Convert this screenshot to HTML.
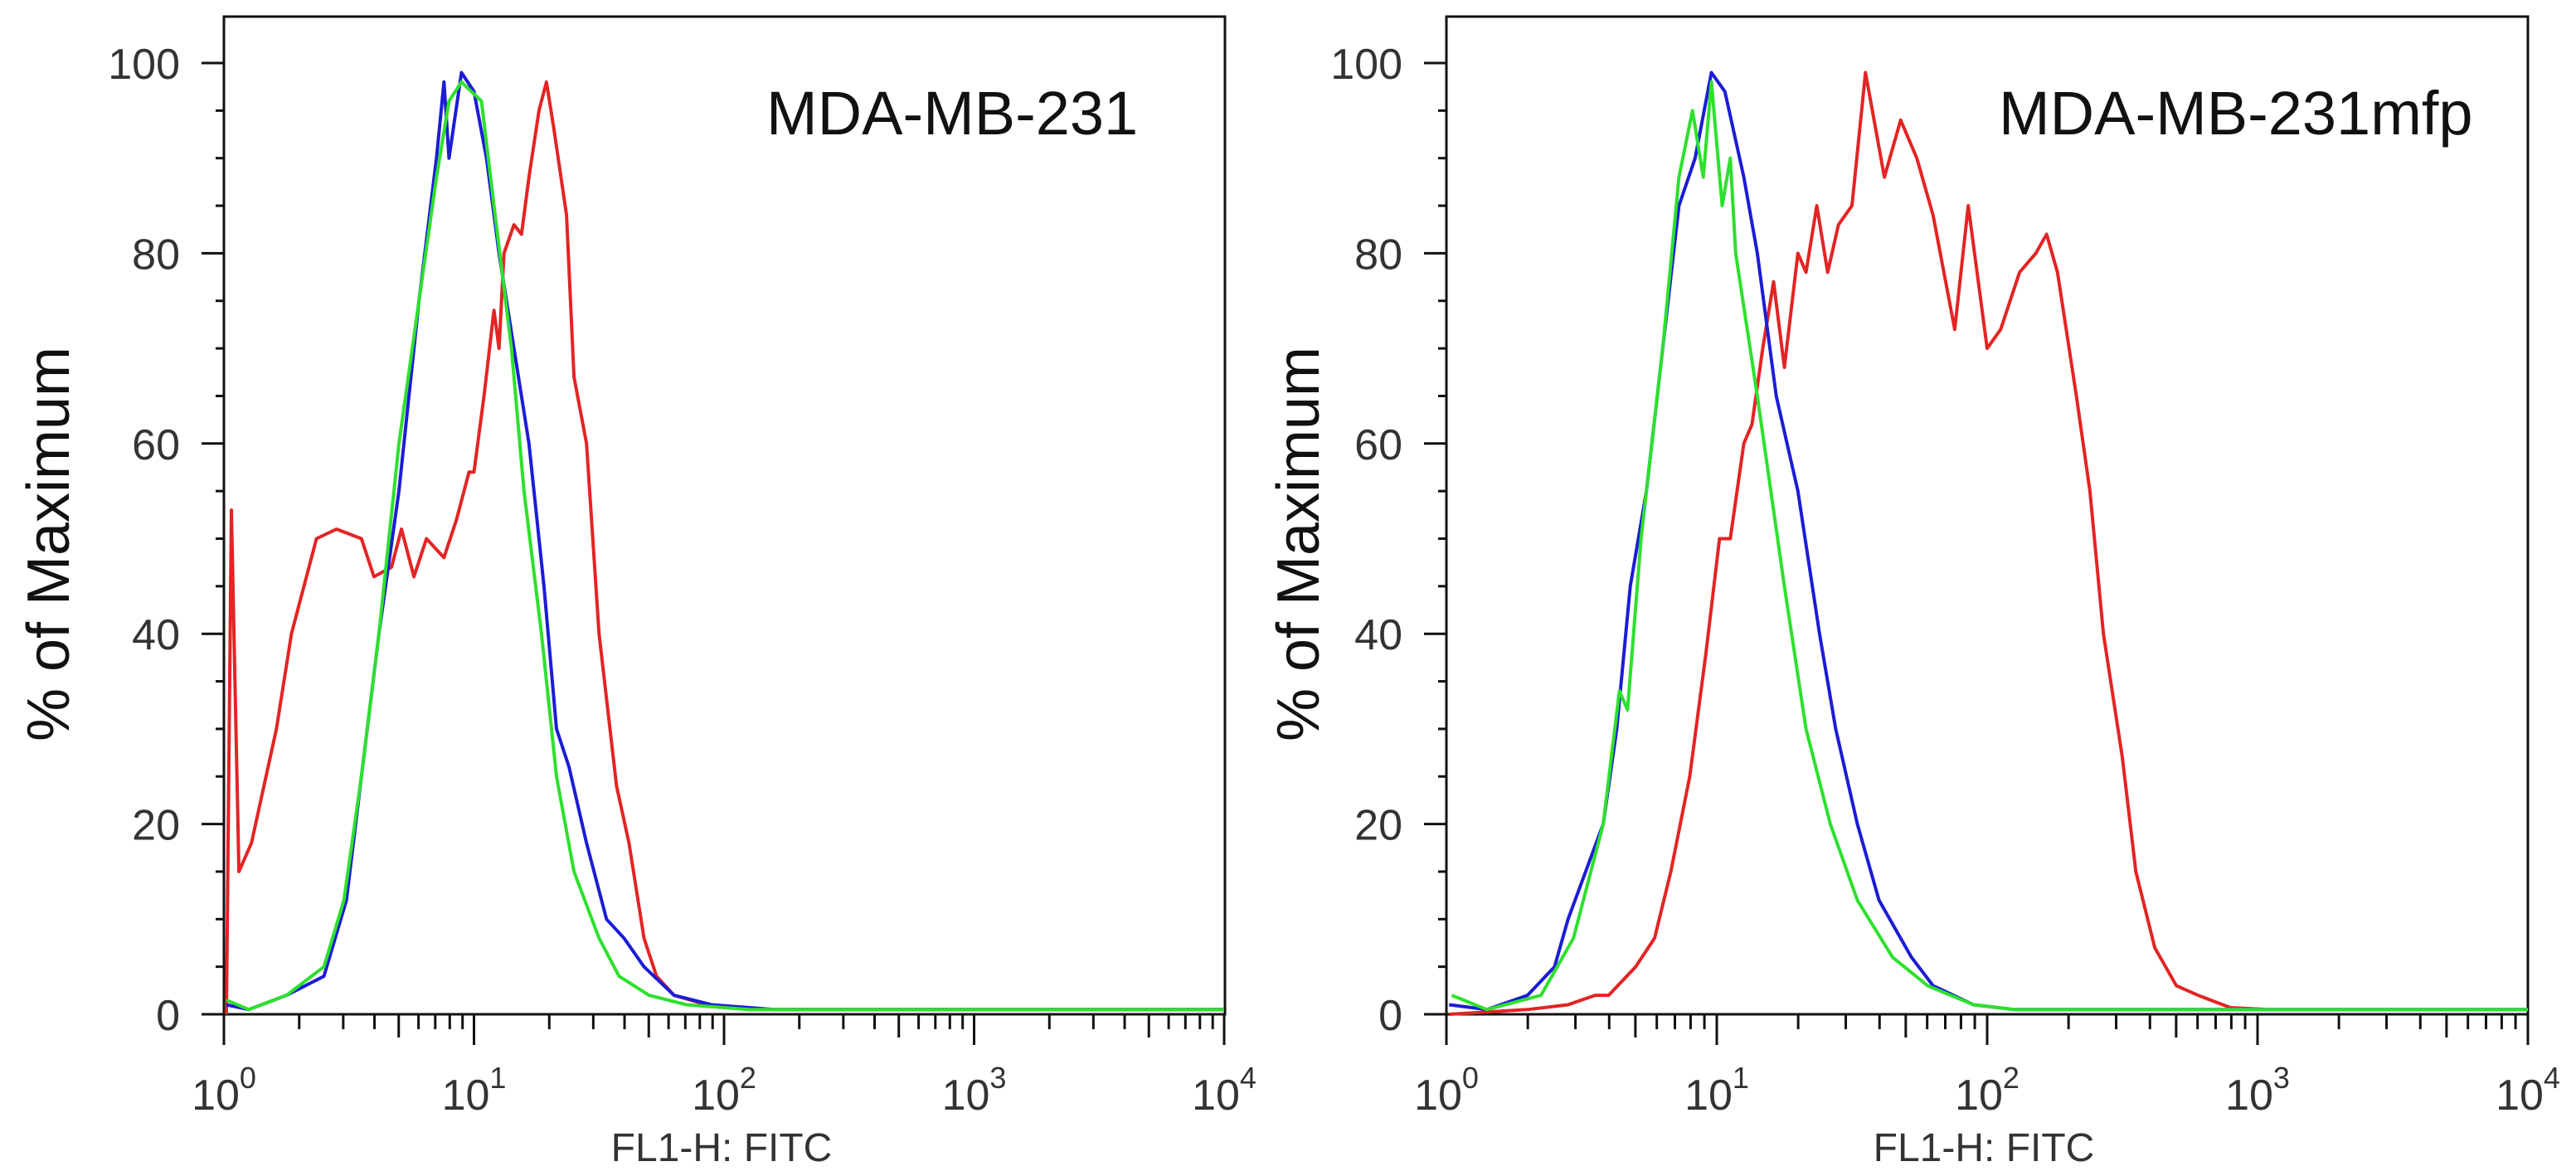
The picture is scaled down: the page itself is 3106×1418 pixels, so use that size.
<!DOCTYPE html>
<html><head><meta charset="utf-8"><style>
html,body{margin:0;padding:0;background:#fff;overflow:hidden;}
svg{display:block;font-family:"Liberation Sans",Arial,sans-serif;}
</style></head><body>
<svg id="chart" width="3106" height="1418" viewBox="0 0 3106 1418"></svg>
<script>
// ---- data (x = log10 fluorescence, y = % of Maximum) ----
const panelTitles = ["MDA-MB-231", "MDA-MB-231mfp"];
const yTicks = [0, 20, 40, 60, 80, 100];
const xDecades = [0, 1, 2, 3, 4];
const L_red_x = [0.01,0.03,0.06,0.11,0.21,0.27,0.37,0.45,0.55,0.6,0.67,0.71,0.76,0.81,0.88,0.93,0.98,1.0,1.04,1.08,1.1,1.12,1.16,1.19,1.22,1.26,1.29,1.32,1.37,1.4,1.45,1.5,1.57,1.62,1.68,1.73,1.8,1.93,2.1,4.0];
const L_red_y = [0,53,15,18,30,40,50,51,50,46,47,51,46,50,48,52,57,57,65,74,70,80,83,82,88,95,98,93,84,67,60,40,24,18,8,4,2,1,0.5,0.5];
const L_blue_x = [0.01,0.1,0.25,0.4,0.49,0.55,0.62,0.7,0.78,0.85,0.88,0.9,0.95,1.0,1.05,1.1,1.16,1.22,1.28,1.33,1.38,1.45,1.53,1.6,1.68,1.8,1.95,2.2,4.0];
const L_blue_y = [1,0.5,2,4,12,25,40,55,75,90,98,90,99,97,90,80,70,60,45,30,26,18,10,8,5,2,1,0.5,0.5];
const L_green_x = [0.01,0.1,0.25,0.4,0.48,0.55,0.62,0.7,0.78,0.85,0.9,0.95,1.03,1.08,1.15,1.2,1.27,1.33,1.4,1.5,1.58,1.7,1.85,2.1,4.0];
const L_green_y = [1.5,0.5,2,5,12,25,40,60,75,88,96,98,96,85,70,55,40,25,15,8,4,2,1,0.5,0.5];
const R_red_x = [0.01,0.3,0.45,0.55,0.6,0.7,0.77,0.83,0.9,0.96,1.01,1.05,1.1,1.13,1.17,1.21,1.25,1.3,1.33,1.37,1.41,1.45,1.5,1.55,1.62,1.68,1.74,1.8,1.88,1.93,2.0,2.05,2.12,2.18,2.22,2.26,2.33,2.38,2.43,2.5,2.55,2.62,2.7,2.78,2.9,3.04];
const R_red_y = [0,0.5,1,2,2,5,8,15,25,38,50,50,60,62,70,77,68,80,78,85,78,83,85,99,88,94,90,84,72,85,70,72,78,80,82,78,65,55,40,27,15,7,3,2,0.7,0.5];
const R_blue_x = [0.01,0.15,0.3,0.4,0.45,0.58,0.63,0.68,0.74,0.8,0.86,0.92,0.98,1.03,1.1,1.15,1.22,1.3,1.38,1.44,1.52,1.6,1.72,1.8,1.95,2.1,4.0];
const R_blue_y = [1,0.5,2,5,10,20,30,45,55,70,85,90,99,97,88,80,65,55,40,30,20,12,6,3,1,0.5,0.5];
const R_green_x = [0.02,0.15,0.35,0.47,0.58,0.64,0.67,0.72,0.8,0.86,0.91,0.95,0.98,1.02,1.05,1.07,1.15,1.25,1.33,1.42,1.52,1.65,1.78,1.95,2.1,4.0];
const R_green_y = [2,0.5,2,8,20,34,32,50,70,88,95,88,98,85,90,80,65,45,30,20,12,6,3,1,0.5,0.5];

const NS = "http://www.w3.org/2000/svg";
const svg = document.getElementById("chart");
function mk(tag, attrs, parent){const e=document.createElementNS(NS,tag);for(const k in attrs)e.setAttribute(k,attrs[k]);(parent||svg).appendChild(e);return e;}

const panels = [
 {x0:270, x1:1477, dec:301.5, titleX:924, ytX:58, xtX:870, series:[[L_red_x,L_red_y,"#e32424"],[L_blue_x,L_blue_y,"#1c1cd6"],[L_green_x,L_green_y,"#2ee02e"]]},
 {x0:1744, x1:3048, dec:326, titleX:2410, ytX:1565, xtX:2392, series:[[R_red_x,R_red_y,"#e32424"],[R_blue_x,R_blue_y,"#1c1cd6"],[R_green_x,R_green_y,"#2ee02e"]]}
];
const yTop=20, y0=1223, y100=76;
panels.forEach((p,i)=>{
  const g=mk("g",{});
  
  
  const xs=v=>p.x0+v*p.dec;
  const ys=v=>y0-(y0-y100)*v/100;
  const frame=mk("rect",{x:p.x0,y:yTop,width:p.x1-p.x0,height:y0-yTop,fill:"none",stroke:"#111","stroke-width":3},g);
  
  
  for(let v=0;v<=100;v+=5){
    const major=v%20===0;
    mk("line",{x1:p.x0-(major?27:10),x2:p.x0,y1:ys(v),y2:ys(v),stroke:"#111","stroke-width":3},g);
  }
  yTicks.forEach(v=>{
    const t=mk("text",{x:p.x0-53,y:ys(v)+19,"text-anchor":"end","font-size":52,fill:"#333"},g);
    t.textContent=v;
    
    
  });
  for(let d=0;d<4;d++){for(let m=1;m<=10;m++){
    const lx=xs(d+Math.log10(m));const major=(m===1||m===10);
    mk("line",{x1:lx,x2:lx,y1:y0,y2:y0+(major?37:(m===5?28:18)),stroke:"#111","stroke-width":3},g);
  }}
  xDecades.forEach(d=>{
    const t=mk("text",{x:xs(d),y:1338,"text-anchor":"middle","font-size":52,fill:"#333"},g);
    
    
    const a=mk("tspan",{},t);a.textContent="10";
    const b=mk("tspan",{dy:-26,"font-size":36},t);b.textContent=d;
  });
  p.series.forEach((s,k)=>{
    const pts=s[0].map((x,j)=>xs(x).toFixed(1)+","+ys(s[1][j]).toFixed(1)).join(" ");
    const pl=mk("polyline",{points:pts,fill:"none",stroke:s[2],"stroke-width":4,"stroke-linejoin":"round"},g);
    
    
  });
  const tt=mk("text",{x:p.titleX,y:162,"font-size":74,fill:"#111"},g);
  tt.textContent=panelTitles[i];
  
  
  const yt=mk("text",{x:0,y:0,"font-size":72,fill:"#111","text-anchor":"middle",transform:`translate(${p.ytX+25},${656}) rotate(-90)`},g);
  yt.textContent="% of Maximum";
  
  
  const xt=mk("text",{x:p.xtX,y:1400,"font-size":48,fill:"#333","text-anchor":"middle"},g);
  xt.textContent="FL1-H: FITC";
  
  
});
</script>
</body></html>
